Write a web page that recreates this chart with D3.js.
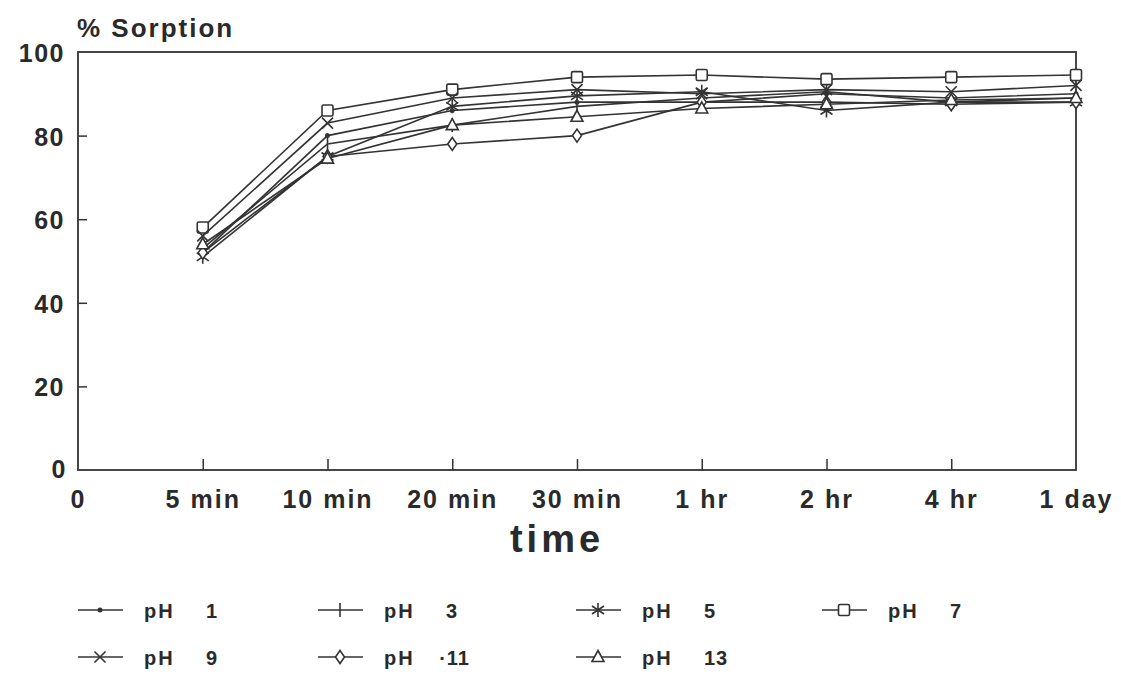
<!DOCTYPE html>
<html>
<head>
<meta charset="utf-8">
<script src="https://cdn.jsdelivr.net/npm/d3@7"></script>
<style>
  html, body { margin: 0; padding: 0; background: #fff; }
  svg { display: block; }
  text { font-family: "Liberation Sans", Arial, sans-serif; font-weight: bold; fill: #2a2a2a; }
</style>
</head>
<body>
<svg id="chart" width="1121" height="680"></svg>
<script>
// Sampling times (category axis, "0" is the origin tick)
const timeLabels = ["0", "5 min", "10 min", "20 min", "30 min", "1 hr", "2 hr", "4 hr", "1 day"];
const sampleTimes = ["5 min", "10 min", "20 min", "30 min", "1 hr", "2 hr", "4 hr", "1 day"];
const yTicks = [0, 20, 40, 60, 80, 100];

// % sorption for each pH
const ph1  = [52, 80, 86, 88, 88, 90, 89, 90];
const ph3  = [53, 78, 82.5, 87, 89, 90.5, 88, 89];
const ph5  = [51, 75, 87, 89.5, 90.5, 86, 88, 88];
const ph7  = [58, 86, 91, 94, 94.5, 93.5, 94, 94.5];
const ph9  = [56, 83, 89, 91, 90, 91, 90.5, 92];
const ph11 = [52, 75, 78, 80, 88, 88, 87.5, 88];
const ph13 = [54, 74.5, 82.5, 84.5, 86.5, 87.5, 88.5, 89];

const legendNumbers = ["1", "3", "5", "7", "9", "·11", "13"];

const series = [
  { num: legendNumbers[0], values: ph1,  mark: "dot" },
  { num: legendNumbers[1], values: ph3,  mark: "plus" },
  { num: legendNumbers[2], values: ph5,  mark: "star" },
  { num: legendNumbers[3], values: ph7,  mark: "square" },
  { num: legendNumbers[4], values: ph9,  mark: "cross" },
  { num: legendNumbers[5], values: ph11, mark: "diamond" },
  { num: legendNumbers[6], values: ph13, mark: "triangle" }
];

const ink = "#333";
const svg = d3.select("#chart");
const m = { left: 78, right: 1076, top: 52, bottom: 470 };

const x = d3.scalePoint().domain(timeLabels).range([m.left, m.right]);
const y = d3.scaleLinear().domain([0, 100]).range([m.bottom, m.top]);

// Frame
svg.append("rect")
  .attr("x", m.left).attr("y", m.top)
  .attr("width", m.right - m.left).attr("height", m.bottom - m.top)
  .attr("fill", "none").attr("stroke", ink).attr("stroke-width", 1.8);

// Y axis: inward ticks
const yAxis = svg.append("g").attr("transform", `translate(${m.left},0)`)
  .call(d3.axisLeft(y).tickValues(yTicks).tickSize(-9).tickPadding(13).tickFormat(d3.format("d")));
yAxis.select(".domain").remove();
yAxis.selectAll("line").attr("stroke", ink).attr("stroke-width", 1.5);
yAxis.selectAll("text").style("font-size", "25px").style("letter-spacing", "1.5px")
  .attr("fill", "#2a2a2a").attr("dy", "0.38em");
yAxis.selectAll(".tick").filter(d => d === 0).select("text").attr("dy", "0.3em").attr("x", -11);
yAxis.selectAll(".tick").filter(d => d === 0 || d === 100).select("line").remove();

// X axis: inward ticks
const xAxis = svg.append("g").attr("transform", `translate(0,${m.bottom})`)
  .call(d3.axisBottom(x).tickSize(-11).tickPadding(20));
xAxis.select(".domain").remove();
xAxis.selectAll("line").attr("stroke", ink).attr("stroke-width", 1.5);
xAxis.selectAll(".tick").filter(d => d === "0" || d === "1 day").select("line").remove();
xAxis.selectAll("text").style("font-size", "25px").style("letter-spacing", "2px")
  .attr("fill", "#2a2a2a").attr("dy", "0.71em");

// Axis titles
svg.append("text").attr("x", 77).attr("y", 37)
  .style("font-size", "26px").style("letter-spacing", "2px")
  .text("% Sorption");
svg.append("text").attr("x", 557).attr("y", 552).attr("text-anchor", "middle")
  .style("font-size", "38px").style("letter-spacing", "4px")
  .text("time");

// Marker drawing
function drawMark(g, type, cx, cy) {
  const s = 5.5;
  const st = { stroke: ink, "stroke-width": 1.6, fill: "none" };
  const add = (tag, attrs) => {
    const el = g.append(tag);
    Object.entries(Object.assign({}, st, attrs)).forEach(([k, v]) => el.attr(k, v));
    return el;
  };
  switch (type) {
    case "dot":
      add("circle", { cx, cy, r: 1.7, fill: ink });
      break;
    case "plus":
      add("path", { d: `M${cx},${cy - 7}V${cy + 7}` });
      break;
    case "star":
      add("path", { d: `M${cx},${cy - 7}V${cy + 7}M${cx - 6},${cy - 4}L${cx + 6},${cy + 4}M${cx - 6},${cy + 4}L${cx + 6},${cy - 4}` });
      break;
    case "square":
      add("rect", { x: cx - s, y: cy - s, width: 2 * s, height: 2 * s, rx: 1.5, fill: "#fff" });
      break;
    case "cross":
      add("path", { d: `M${cx - 5.5},${cy - 5.5}L${cx + 5.5},${cy + 5.5}M${cx - 5.5},${cy + 5.5}L${cx + 5.5},${cy - 5.5}` });
      break;
    case "diamond":
      add("path", { d: `M${cx},${cy - 6.5}L${cx + 4.5},${cy}L${cx},${cy + 6.5}L${cx - 4.5},${cy}Z`, fill: "#fff" });
      break;
    case "triangle":
      add("path", { d: `M${cx},${cy - 6.5}L${cx + 6},${cy + 4.5}L${cx - 6},${cy + 4.5}Z`, fill: "#fff" });
      break;
  }
}

// Lines
const line = d3.line().x((d, i) => x(sampleTimes[i])).y(d => y(d));
const plot = svg.append("g");
series.forEach(s => {
  plot.append("path").datum(s.values)
    .attr("d", line).attr("fill", "none")
    .attr("stroke", ink).attr("stroke-width", 1.6);
});
series.forEach(s => {
  const g = plot.append("g");
  s.values.forEach((v, i) => drawMark(g, s.mark, x(sampleTimes[i]), y(v)));
});

// Legend
const legendCols = [78, 318, 576, 822];
const legendRows = [610, 657];
series.forEach((s, i) => {
  const col = i < 4 ? i : i - 4;
  const row = i < 4 ? 0 : 1;
  const lx = legendCols[col], ly = legendRows[row];
  const g = svg.append("g");
  g.append("line").attr("x1", lx).attr("x2", lx + 45).attr("y1", ly).attr("y2", ly)
    .attr("stroke", ink).attr("stroke-width", 1.5);
  drawMark(g, s.mark, lx + 22, ly);
  g.append("text").attr("x", lx + 66).attr("y", ly + 8)
    .style("font-size", "20px").style("letter-spacing", "2px")
    .text("pH");
  g.append("text").attr("x", lx + 128).attr("y", ly + 8)
    .attr("text-anchor", s.num.startsWith("·") ? "end" : "start")
    .attr("dx", s.num.startsWith("·") ? 24 : 0)
    .style("font-size", "20px").style("letter-spacing", "1px")
    .text(s.num);
});
</script>
</body>
</html>
